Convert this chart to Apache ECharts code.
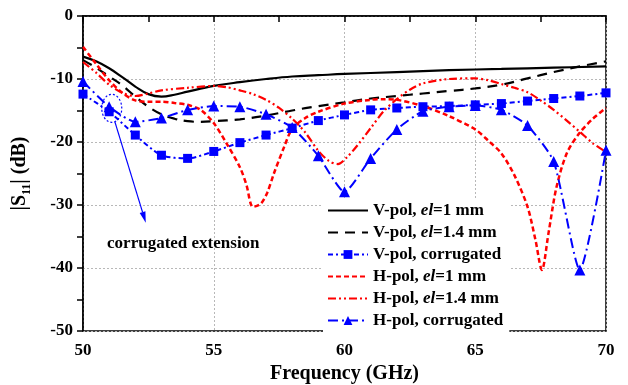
<!DOCTYPE html>
<html>
<head>
<meta charset="utf-8">
<script src="https://cdn.jsdelivr.net/npm/echarts@6/dist/echarts.min.js"></script>
<style>
html,body{margin:0;padding:0;background:#fff;}
#main{width:628px;height:385px;}
</style>
</head>
<body>
<div id="main"></div>
<script>
// ---- Data ----
const seriesNames = ['V-pol, el=1 mm','V-pol, el=1.4 mm','V-pol, corrugated','H-pol, el=1 mm','H-pol, el=1.4 mm','H-pol, corrugated'];

const xVel1 = [50,50.5,51,51.5,52,52.5,53,53.5,54,55,56,57,58,59,60,62,64,66,68,70];
const yVel1 = [-6.45,-7.2,-8.3,-9.7,-11.2,-12.4,-12.8,-12.5,-12.0,-11.1,-10.5,-10.0,-9.6,-9.4,-9.2,-8.9,-8.6,-8.4,-8.2,-8.0];

const xVel14 = [50,50.5,51,51.5,52,52.5,53,53.5,54,54.5,55,56,57,58,59,60,61,62,63,64,65,66,67,68,69,70];
const yVel14 = [-7.0,-8.2,-9.6,-11.0,-12.8,-14.4,-15.6,-16.3,-16.7,-16.8,-16.7,-16.4,-15.8,-15.0,-14.3,-13.7,-13.1,-12.7,-12.3,-11.9,-11.5,-10.9,-9.9,-8.9,-8.0,-7.2];

const xCorr = [50,51,52,53,54,55,56,57,58,59,60,61,62,63,64,65,66,67,68,69,70];
const yVcorr = [-12.4,-15.2,-18.9,-22.1,-22.6,-21.5,-20.1,-18.9,-17.8,-16.6,-15.7,-14.9,-14.6,-14.4,-14.3,-14.1,-13.9,-13.5,-13.1,-12.7,-12.2];
const yHcorr = [-10.4,-14.4,-16.8,-16.2,-14.9,-14.3,-14.4,-15.6,-17.7,-22.2,-27.9,-22.6,-18.0,-15.1,-14.4,-14.2,-14.9,-17.4,-23.1,-40.3,-21.3];

const xHel1 = [50,50.5,51,51.5,52,52.5,53,53.5,54,54.5,55,55.5,56,56.25,56.5,56.8,57.05,57.3,57.7,58,58.5,59,60,61,61.5,62,63,64,65,65.5,66,66.5,67,67.3,67.55,67.8,68.1,68.5,69,69.5,70];
const yHel1 = [-4.9,-7.6,-10.2,-12.2,-13.4,-13.6,-13.6,-13.8,-14.1,-14.9,-17.0,-20.3,-24.0,-26.8,-30.3,-29.8,-28.0,-25.0,-20.7,-17.9,-16.2,-15.2,-13.9,-13.3,-13.2,-13.3,-14.3,-15.9,-18.0,-19.8,-21.8,-25.3,-30.3,-35.5,-40.3,-34.5,-27.3,-21.8,-18.5,-16.3,-14.6];

const xHel14 = [50,50.5,51,51.5,52,52.5,53,54,55,55.5,56,56.5,57,57.5,58,58.5,59,59.4,59.75,60.1,60.5,61,61.5,62,62.5,63,64,65,65.5,66,66.5,67,67.5,68,68.5,69,69.5,70];
const yHel14 = [-7.3,-9.0,-10.9,-12.2,-12.7,-12.3,-11.8,-11.4,-11.1,-11.3,-11.8,-12.4,-13.3,-14.6,-16.3,-18.5,-21.4,-23.0,-23.5,-22.4,-20.5,-17.8,-15.1,-13.2,-11.7,-10.7,-10.0,-9.9,-10.2,-10.8,-11.4,-12.1,-13.4,-14.9,-16.6,-18.4,-20.2,-21.6];

const xTicks = [50,55,60,65,70];
const yTicks = [0,-10,-20,-30,-40,-50];

// annotation anchors (data units)
const circleCenter = [51.1, -14.65];
const arrowFrom = [51.22, -16.8];
const arrowTo = [52.4, -32.8];
const noteAnchor = [50.92, -36.2];
const noteText = 'corrugated extension';

const zip = (xs, ys) => xs.map((x, i) => [x, ys[i]]);
const FONT = 'Liberation Serif';

const chart = echarts.init(document.getElementById('main'), null, {renderer: 'canvas'});

const mk = (i, data, color, dash, width, symbol, size, smooth) => ({
  name: seriesNames[i],
  type: 'line',
  data: data,
  smooth: smooth,
  symbol: symbol,
  symbolSize: size,
  showSymbol: symbol !== 'none',
  itemStyle: {color: symbol === 'none' ? 'rgba(0,0,0,0)' : color},
  lineStyle: {color: color, width: width, type: dash},
  emphasis: {disabled: true},
  animation: false,
  z: 3
});

const option = {
  animation: false,
  backgroundColor: '#fff',
  grid: {left: 83, right: 22, top: 16, bottom: 54, show: true, borderColor: '#000', borderWidth: 1.5, backgroundColor: 'transparent', containLabel: false, outerBoundsMode: 'none'},
  legend: {
    orient: 'vertical', left: 323, top: 198,
    itemWidth: 40, itemHeight: 11, itemGap: 5,
    backgroundColor: '#fff', padding: [4, 6, 4, 4],
    data: seriesNames,
    formatter: n => n.replace('el', '{i|el}'),
    textStyle: {fontFamily: FONT, fontWeight: 'bold', fontSize: 17, color: '#000',
      rich: {i: {fontFamily: FONT, fontWeight: 'bold', fontStyle: 'italic', fontSize: 17, color: '#000'}}},
    selectedMode: false
  },
  xAxis: {
    type: 'value', min: xTicks[0], max: xTicks[xTicks.length-1], interval: 5,
    name: 'Frequency (GHz)', nameLocation: 'middle', nameGap: 33,
    nameTextStyle: {fontFamily: FONT, fontWeight: 'bold', fontSize: 20, color: '#000'},
    axisLine: {lineStyle: {color: '#000', width: 1.5}},
    axisTick: {show: true, inside: false, length: 6, lineStyle: {color: '#000', width: 1.5}},
    minorTick: {show: true, splitNumber: 2, length: 6, lineStyle: {color: '#000', width: 1.5}},
    axisLabel: {fontFamily: FONT, fontWeight: 'bold', fontSize: 17, color: '#000', margin: 11},
    splitLine: {show: true, lineStyle: {color: '#b8b8b8', width: 1, type: [2, 2]}}
  },
  yAxis: {
    type: 'value', min: yTicks[yTicks.length-1], max: yTicks[0], interval: 10,
    name: '{b||S}{s|11}{b|| (dB)}', nameLocation: 'middle', nameGap: 53, nameRotate: 90,
    nameTextStyle: {fontFamily: FONT, fontWeight: 'bold', fontSize: 20, color: '#000',
      rich: {
        b: {fontFamily: FONT, fontWeight: 'bold', fontSize: 20, color: '#000', lineHeight: 22, verticalAlign: 'bottom'},
        s: {fontFamily: FONT, fontWeight: 'bold', fontSize: 12, color: '#000', lineHeight: 22, verticalAlign: 'bottom', padding: [0, 0, -3, 0]}
      }},
    axisLine: {lineStyle: {color: '#000', width: 1.5}},
    axisTick: {show: true, inside: false, length: 6, lineStyle: {color: '#000', width: 1.5}},
    minorTick: {show: true, splitNumber: 2, length: 6, lineStyle: {color: '#000', width: 1.5}},
    axisLabel: {fontFamily: FONT, fontWeight: 'bold', fontSize: 17, color: '#000', margin: 10},
    splitLine: {show: true, lineStyle: {color: '#b8b8b8', width: 1, type: [2, 2]}}
  },
  series: [
    mk(0, zip(xVel1, yVel1), '#000', 'solid', 2.2, 'none', 0, 0.4),
    mk(1, zip(xVel14, yVel14), '#000', [10, 7], 2.2, 'none', 0, 0.4),
    mk(2, zip(xCorr, yVcorr), '#0000ff', [5, 3, 2, 3], 2, 'rect', 9, 0.25),
    mk(3, zip(xHel1, yHel1), '#ff0000', [5, 3], 2.5, 'none', 0, 0.3),
    mk(4, zip(xHel14, yHel14), '#ff0000', [8, 3, 2, 3, 2, 3], 2.2, 'none', 0, 0.3),
    mk(5, zip(xCorr, yHcorr), '#0000ff', [10, 4, 2, 4], 2, 'triangle', 11, 0.2)
  ]
};
chart.setOption(option);

// annotation graphics
const c = chart.convertToPixel({gridIndex: 0}, circleCenter);
const a0 = chart.convertToPixel({gridIndex: 0}, arrowFrom);
const a1 = chart.convertToPixel({gridIndex: 0}, arrowTo);
const tp = chart.convertToPixel({gridIndex: 0}, noteAnchor);
const dx = a1[0] - a0[0], dy = a1[1] - a0[1];
const L = Math.hypot(dx, dy), ux = dx / L, uy = dy / L;
const hl = 11, hw = 3;
const bx = a1[0] - ux * hl, by = a1[1] - uy * hl;
chart.setOption({
  graphic: [
    {type: 'ellipse', shape: {cx: c[0], cy: c[1], rx: 10, ry: 14}, style: {fill: 'none', stroke: '#0000ff', lineWidth: 1.2, lineDash: [2, 2]}, z: 10},
    {type: 'line', shape: {x1: a0[0], y1: a0[1], x2: bx, y2: by}, style: {stroke: '#0000ff', lineWidth: 1.2}, z: 10},
    {type: 'polygon', shape: {points: [[a1[0], a1[1]], [bx - uy * hw, by + ux * hw], [bx + uy * hw, by - ux * hw]]}, style: {fill: '#0000ff'}, z: 10},
    {type: 'text', x: tp[0], y: tp[1], style: {text: noteText, font: 'bold 17px "Liberation Serif"', fill: '#000', textAlign: 'left', textVerticalAlign: 'middle'}, z: 10}
  ]
});
</script>
</body>
</html>
